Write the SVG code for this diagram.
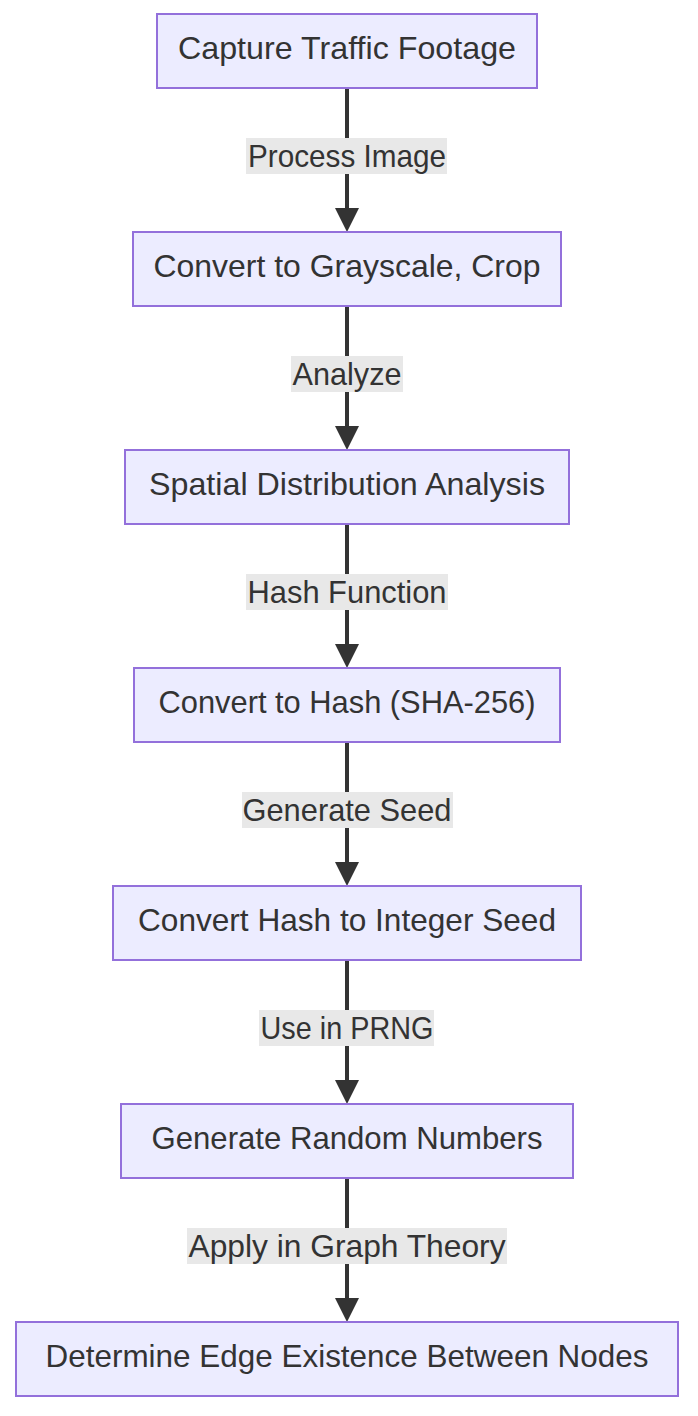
<svg xmlns="http://www.w3.org/2000/svg" width="698" height="1416" viewBox="0 0 698 1416">
<style>
.node rect{fill:#ECECFF;stroke:#9370DB;stroke-width:2}
.node text{font-family:"Liberation Sans",Arial,sans-serif;font-size:32px;fill:#333;text-anchor:middle}
.edge line{stroke:#333;stroke-width:4}
.lbl rect{fill:#e8e8e8}
.lbl text{font-family:"Liberation Sans",Arial,sans-serif;font-size:32px;fill:#333;text-anchor:middle}
</style>
<defs>
<marker id="arr" markerUnits="userSpaceOnUse" viewBox="0 0 24 24" refX="4" refY="12" markerWidth="24" markerHeight="24" orient="auto">
<path d="M0,0 L24,12 L0,24 Z" fill="#333"/>
</marker>
</defs>
<g id="connectors">
<g class="edge"><line x1="347" y1="88" x2="347" y2="212" marker-end="url(#arr)"/></g>
<g class="edge"><line x1="347" y1="306" x2="347" y2="430" marker-end="url(#arr)"/></g>
<g class="edge"><line x1="347" y1="524" x2="347" y2="648" marker-end="url(#arr)"/></g>
<g class="edge"><line x1="347" y1="742" x2="347" y2="866" marker-end="url(#arr)"/></g>
<g class="edge"><line x1="347" y1="960" x2="347" y2="1084" marker-end="url(#arr)"/></g>
<g class="edge"><line x1="347" y1="1178" x2="347" y2="1302" marker-end="url(#arr)"/></g>
<g class="lbl"><rect x="246" y="138" width="201" height="36"/><text x="347" y="167" textLength="198" lengthAdjust="spacingAndGlyphs">Process Image</text></g>
<g class="lbl"><rect x="291" y="356" width="112" height="36"/><text x="347" y="385" textLength="109" lengthAdjust="spacingAndGlyphs">Analyze</text></g>
<g class="lbl"><rect x="246" y="574" width="202" height="36"/><text x="347" y="603" textLength="199" lengthAdjust="spacingAndGlyphs">Hash Function</text></g>
<g class="lbl"><rect x="242" y="792" width="211" height="36"/><text x="347" y="821" textLength="209" lengthAdjust="spacingAndGlyphs">Generate Seed</text></g>
<g class="lbl"><rect x="259" y="1010" width="175" height="36"/><text x="347" y="1039" textLength="173" lengthAdjust="spacingAndGlyphs">Use in PRNG</text></g>
<g class="lbl"><rect x="187" y="1228" width="320" height="36"/><text x="347" y="1257" textLength="317" lengthAdjust="spacingAndGlyphs">Apply in Graph Theory</text></g>
</g>
<g id="n1" class="node"><rect x="157" y="14" width="380" height="74"/><text x="347" y="59" textLength="338" lengthAdjust="spacingAndGlyphs">Capture Traffic Footage</text></g>
<g id="n2" class="node"><rect x="133" y="232" width="428" height="74"/><text x="347" y="277" textLength="387" lengthAdjust="spacingAndGlyphs">Convert to Grayscale, Crop</text></g>
<g id="n3" class="node"><rect x="125" y="450" width="444" height="74"/><text x="347" y="495" textLength="396" lengthAdjust="spacingAndGlyphs">Spatial Distribution Analysis</text></g>
<g id="n4" class="node"><rect x="134" y="668" width="426" height="74"/><text x="347" y="713" textLength="377" lengthAdjust="spacingAndGlyphs">Convert to Hash (SHA-256)</text></g>
<g id="n5" class="node"><rect x="113" y="886" width="468" height="74"/><text x="347" y="931" textLength="418" lengthAdjust="spacingAndGlyphs">Convert Hash to Integer Seed</text></g>
<g id="n6" class="node"><rect x="121" y="1104" width="452" height="74"/><text x="347" y="1149" textLength="391" lengthAdjust="spacingAndGlyphs">Generate Random Numbers</text></g>
<g id="n7" class="node"><rect x="16" y="1322" width="662" height="74"/><text x="347" y="1367" textLength="603" lengthAdjust="spacingAndGlyphs">Determine Edge Existence Between Nodes</text></g>
</svg>
